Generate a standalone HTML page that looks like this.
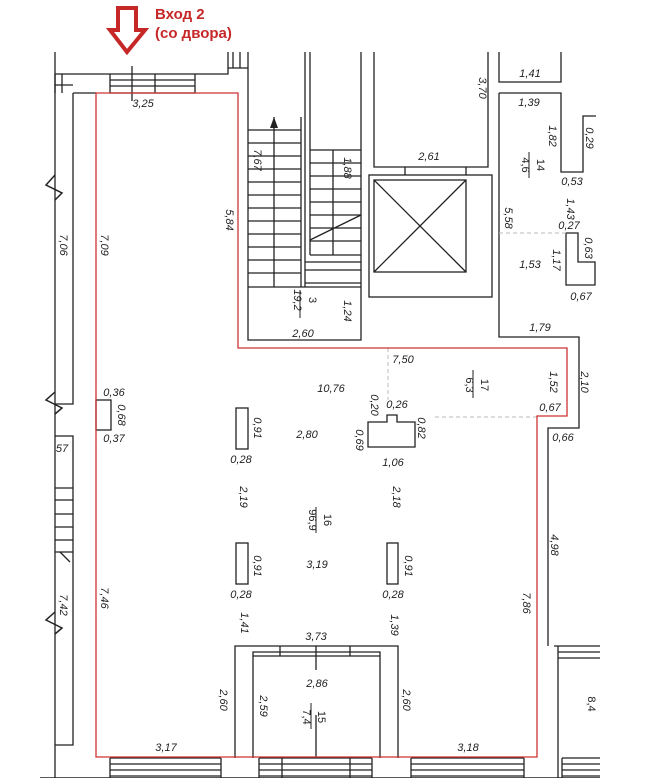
<!DOCTYPE html>
<html><head><meta charset="utf-8"><style>
html,body{margin:0;padding:0;background:#fff;width:662px;height:778px;overflow:hidden}
svg text{font-family:"Liberation Sans",sans-serif;font-style:italic;font-size:11px;fill:#222}
</style></head><body>
<svg width="662" height="778" viewBox="0 0 662 778" xmlns="http://www.w3.org/2000/svg">
<g fill="none" stroke="#222" stroke-width="1.3">
<!-- left walls -->
<path d="M55 52 V778"/>
<path d="M73 93 V404 H55"/>
<path d="M55 436 H73 V745 H55"/>
<path d="M55 488H73M55 500H73M55 514H73M55 527H73M55 540H73M55 552H73M60 552L70 562"/>
<path d="M55 85 H73 M55 74 V93 M62 74 V93"/>
<!-- top wall -->
<path d="M55 74 H228 V52 M73 93 H96"/>
<path d="M110 74 V93 H195 V74 M110 80H195 M110 86H195 M155 74V93"/>
<path d="M132 66 V101"/>
<path d="M228 68 H248 M233 52V68 M240 52V68 M248 52 V340 H361 V52"/>
<!-- stairs -->
<path d="M301 117 V287 M305 52 V287 M310 52 V255 M274 117 V287 M248 287 H361"/>
<path d="M248 130H301M248 143H301M248 156H301M248 169H301M248 182H301M248 195H301M248 208H301M248 221H301M248 234H301M248 247H301M248 260H301M248 273H301"/>
<path d="M310 150H361M310 163H361M310 176H361M310 189H361M310 202H361M310 215H361M310 228H361M310 241H361M310 255H361M305 262H361M305 270H361M305 283H361 M333 150V255 M310 240 L361 215"/>
<!-- room above elevator -->
<path d="M374 52 V167 H488 V52 M405 167 V175 M466 167 V175"/>
<!-- elevator -->
<rect x="369" y="175" width="123" height="122"/>
<rect x="374" y="180" width="92" height="92"/>
<path d="M374 180 L466 272 M466 180 L374 272"/>
<!-- right block -->
<path d="M499 52 V82 H561 V52"/>
<path d="M499 93 H561 V172 H583 V116 H596"/>
<path d="M499 93 V337 H579 V428 H548 V646"/>
<path d="M566 233 H578 V262 H595 V285 H566 Z"/>
<path d="M554 646 H600 M558 646 V778"/>
<!-- columns -->
<rect x="236" y="408" width="12" height="41"/>
<rect x="236" y="543" width="12" height="41"/>
<rect x="387" y="543" width="11" height="41"/>
<rect x="96" y="400" width="15" height="30"/>
<path d="M368 422 H387 V415 H397 V422 H415 V447 H368 Z"/>
<!-- room 15 -->
<path d="M235 758 V646 H398 V758 M253 758 V652 H380 V758 M253 652 H380 M253 656H380 M280 646V656 M350 646V656 M316 646 V670 M316 715 V758"/>
<!-- bottom windows -->
<path d="M110 758H221M110 764H221M110 770H221M110 776H221M110 758V778M221 758V778"/>
<path d="M259 758H372M259 764H372M259 770H372M259 776H372M259 758V778M372 758V778M282 758V778M350 758V778"/>
<path d="M411 758H524M411 764H524M411 770H524M411 776H524M411 758V778M524 758V778"/>
<path d="M562 758H600M562 764H600M562 770H600M562 776H600M562 758V778M558 652H600M558 658H600"/>
<path d="M40 778H600" stroke-width="1.5"/>
</g>
<!-- zigzag breaks -->
<g fill="none" stroke="#222" stroke-width="1.5">
<path d="M55 175 L46 185 L62 193 L55 200"/>
<path d="M55 392 L46 400 L62 408 L55 414"/>
<path d="M55 612 L46 620 L62 628 L55 634"/>
</g>
<!-- dashed -->
<g stroke="#bbb" stroke-width="1" stroke-dasharray="4 3" fill="none">
<path d="M499 233 H566"/><path d="M435 417 H537"/><path d="M388 348 V400"/>
</g>
<!-- red outline -->
<path d="M96 93 H238 V348 H567 V416 H537 V757 H96 Z" fill="none" stroke="#c33" stroke-width="1.3"/>
<!-- arrow -->
<path d="M118 8 H136 V30 H145 L127 52 L110 30 H118 Z" fill="#fff" stroke="#c62828" stroke-width="4" stroke-linejoin="miter"/>
<text x="155" y="19" style="font-style:normal;font-weight:bold;font-size:15px;fill:#c62828">Вход 2</text>
<text x="155" y="38" style="font-style:normal;font-weight:bold;font-size:15px;fill:#c62828">(со двора)</text>
<!-- horizontal labels -->
<g text-anchor="middle">
<text x="143" y="107">3,25</text>
<text x="303" y="337">2,60</text>
<text x="429" y="160">2,61</text>
<text x="530" y="77">1,41</text>
<text x="529" y="106">1,39</text>
<text x="572" y="185">0,53</text>
<text x="569" y="229">0,27</text>
<text x="530" y="268">1,53</text>
<text x="581" y="300">0,67</text>
<text x="540" y="331">1,79</text>
<text x="403" y="363">7,50</text>
<text x="331" y="392">10,76</text>
<text x="550" y="411">0,67</text>
<text x="114" y="396">0,36</text>
<text x="114" y="442">0,37</text>
<text x="241" y="463">0,28</text>
<text x="307" y="438">2,80</text>
<text x="397" y="408">0,26</text>
<text x="393" y="466">1,06</text>
<text x="563" y="441">0,66</text>
<text x="317" y="568">3,19</text>
<text x="241" y="598">0,28</text>
<text x="393" y="598">0,28</text>
<text x="316" y="640">3,73</text>
<text x="317" y="687">2,86</text>
<text x="166" y="751">3,17</text>
<text x="468" y="751">3,18</text>
<text x="62" y="452">57</text>
</g>
<!-- rotated labels -->
<g text-anchor="middle">
<text transform="translate(254,160) rotate(90)">7,67</text>
<text transform="translate(226,220) rotate(90)">5,84</text>
<text transform="translate(60,245) rotate(90)">7,06</text>
<text transform="translate(101,245) rotate(90)">7,09</text>
<text transform="translate(344,168) rotate(90)">1,88</text>
<text transform="translate(294,300) rotate(90)">19,2</text>
<text transform="translate(309,300) rotate(90)" style="font-style:normal">3</text>
<text transform="translate(344,311) rotate(90)">1,24</text>
<text transform="translate(479,88) rotate(90)">3,70</text>
<text transform="translate(549,136) rotate(90)">1,82</text>
<text transform="translate(586,138) rotate(90)">0,29</text>
<text transform="translate(522,165) rotate(90)" style="font-style:normal">4,6</text>
<text transform="translate(537,165) rotate(90)" style="font-style:normal">14</text>
<text transform="translate(567,209) rotate(90)">1,43</text>
<text transform="translate(505,218) rotate(90)">5,58</text>
<text transform="translate(585,248) rotate(90)">0,63</text>
<text transform="translate(553,260) rotate(90)">1,17</text>
<text transform="translate(466,385) rotate(90)" style="font-style:normal">6,3</text>
<text transform="translate(481,385) rotate(90)" style="font-style:normal">17</text>
<text transform="translate(550,382) rotate(90)">1,52</text>
<text transform="translate(581,382) rotate(90)">2,10</text>
<text transform="translate(118,415) rotate(90)">0,68</text>
<text transform="translate(254,428) rotate(90)">0,91</text>
<text transform="translate(371,405) rotate(90)">0,20</text>
<text transform="translate(356,440) rotate(90)">0,69</text>
<text transform="translate(418,428) rotate(90)">0,82</text>
<text transform="translate(240,497) rotate(90)">2,19</text>
<text transform="translate(393,497) rotate(90)">2,18</text>
<text transform="translate(309,520) rotate(90)" style="font-style:normal">96,9</text>
<text transform="translate(324,520) rotate(90)" style="font-style:normal">16</text>
<text transform="translate(551,545) rotate(90)">4,98</text>
<text transform="translate(254,566) rotate(90)">0,91</text>
<text transform="translate(405,566) rotate(90)">0,91</text>
<text transform="translate(241,623) rotate(90)">1,41</text>
<text transform="translate(391,625) rotate(90)">1,39</text>
<text transform="translate(101,598) rotate(90)">7,46</text>
<text transform="translate(60,605) rotate(90)">7,42</text>
<text transform="translate(523,603) rotate(90)">7,86</text>
<text transform="translate(220,700) rotate(90)">2,60</text>
<text transform="translate(260,706) rotate(90)">2,59</text>
<text transform="translate(403,700) rotate(90)">2,60</text>
<text transform="translate(303,717) rotate(90)" style="font-style:normal">7,4</text>
<text transform="translate(318,717) rotate(90)" style="font-style:normal">15</text>
<text transform="translate(588,704) rotate(90)" style="font-style:normal">8,4</text>
</g>
<g stroke="#222" stroke-width="1">
<path d="M300 290 V318 M529 152 V178 M473 370 V398 M316 507 V533 M311 703 V729"/>
</g>
<path d="M274 117 L270 128 H278 Z" fill="#222"/>
</svg>
</body></html>
